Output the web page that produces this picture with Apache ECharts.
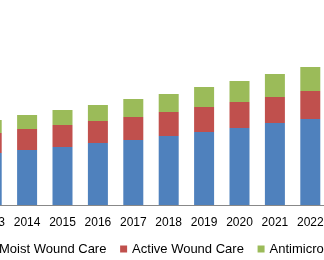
<!DOCTYPE html>
<html>
<head>
<meta charset="utf-8">
<script src="https://cdn.jsdelivr.net/npm/echarts@6/dist/echarts.min.js"></script>
<style>
html,body{margin:0;padding:0;background:#fff;overflow:hidden;width:324px;height:260px;}
#c{position:absolute;left:-26px;top:0;width:354px;height:260px;}
</style>
</head>
<body>
<div id="c"></div>
<script>
var years = ['2013','2014','2015','2016','2017','2018','2019','2020','2021','2022'];
var moist = [52,55,58,62,65,69,73,77,82,86];
var active = [20,21,22,22,23,24,25,26,26,28];
var antimicrobial = [13,14,15,16,18,18,20,21,23,24];
var names = ['Moist Wound Care','Active Wound Care','Antimicrobial Wound Care'];

var chart = echarts.init(document.getElementById('c'), null, {renderer:'canvas'});
chart.setOption({
  animation:false,
  color:['#4F81BD','#C0504D','#9BBB59'],
  textStyle:{fontFamily:'Liberation Sans, Arial, sans-serif'},
  grid:{left:0, right:0, top:5, bottom:55, containLabel:false},
  legend:{
    data:names, left:13, top:242, width:700, padding:0,
    itemWidth:7, itemHeight:7, itemGap:13.7, icon:'rect',
    textStyle:{fontSize:13, color:'#000', lineHeight:14, fontFamily:'Liberation Sans, Arial, sans-serif'}
  },
  xAxis:{
    type:'category', data:years,
    axisLine:{lineStyle:{color:'#888888', width:1}},
    axisTick:{show:false},
    axisLabel:{color:'#000', fontSize:12, margin:12, interval:0}
  },
  yAxis:{type:'value', min:0, max:200, show:false, splitLine:{show:false}},
  series:[
    {name:names[0], type:'bar', stack:'s', data:moist, barWidth:20},
    {name:names[1], type:'bar', stack:'s', data:active, barWidth:20},
    {name:names[2], type:'bar', stack:'s', data:antimicrobial, barWidth:20}
  ]
});
</script>
</body>
</html>
